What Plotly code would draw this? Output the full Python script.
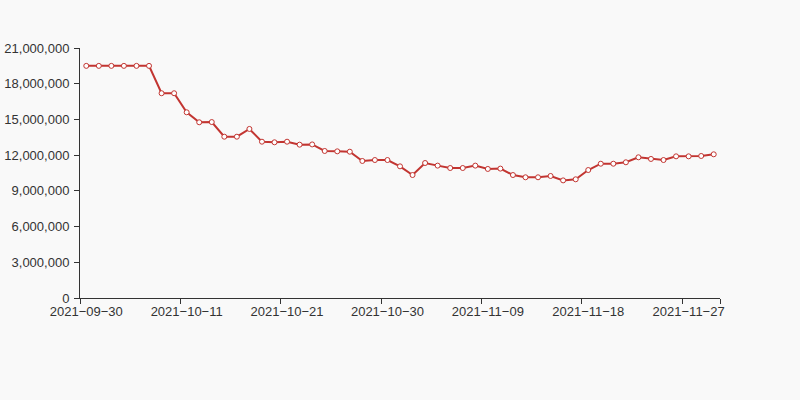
import plotly.graph_objects as go

dates = [
    "2021-09-30", "2021-10-01", "2021-10-04", "2021-10-05", "2021-10-06", "2021-10-07", "2021-10-08", "2021-10-09",
    "2021-10-11", "2021-10-12", "2021-10-13", "2021-10-14", "2021-10-15", "2021-10-18", "2021-10-19", "2021-10-20",
    "2021-10-21", "2021-10-22", "2021-10-23", "2021-10-25", "2021-10-26", "2021-10-27", "2021-10-28", "2021-10-29",
    "2021-10-30", "2021-10-31", "2021-11-01", "2021-11-02", "2021-11-03", "2021-11-05", "2021-11-06", "2021-11-08",
    "2021-11-09", "2021-11-10", "2021-11-11", "2021-11-12", "2021-11-13", "2021-11-15", "2021-11-16", "2021-11-17",
    "2021-11-18", "2021-11-19", "2021-11-20", "2021-11-21", "2021-11-22", "2021-11-24", "2021-11-25", "2021-11-26",
    "2021-11-27", "2021-11-28", "2021-11-29",
]

values = [
    19500000, 19500000, 19500000, 19500000, 19500000, 19500000, 17200000, 17200000,
    15600000, 14760000, 14780000, 13550000, 13550000, 14200000, 13130000, 13080000,
    13130000, 12880000, 12900000, 12350000, 12320000, 12290000, 11510000, 11590000,
    11590000, 11060000, 10330000, 11340000, 11120000, 10920000, 10920000, 11120000,
    10840000, 10870000, 10330000, 10140000, 10140000, 10250000, 9880000, 9970000,
    10750000, 11280000, 11280000, 11400000, 11820000, 11680000, 11590000, 11900000,
    11900000, 11930000, 12070000,
]

label_step = 8
y_ticks = [0, 3000000, 6000000, 9000000, 12000000, 15000000, 18000000, 21000000]

n = len(dates)
idx = list(range(n))
label_idx = idx[::label_step]
boundary_ticks = [i - 0.5 for i in label_idx] + [n - 0.5]

fig = go.Figure()
fig.add_trace(go.Scatter(
    x=idx, y=values, mode="lines+markers",
    line=dict(color="#c23531", width=2),
    marker=dict(size=5, color="#ffffff", line=dict(color="#c23531", width=1)),
    hoverinfo="skip", showlegend=False,
))
# invisible trace to activate overlay axis for boundary ticks
fig.add_trace(go.Scatter(x=[-0.5, n - 0.5], y=[None, None], xaxis="x2", showlegend=False,
                         hoverinfo="skip", mode="lines"))

axis_font = dict(family="Liberation Sans, Arial, sans-serif", size=13, color="#333333")
fig.update_layout(
    width=800, height=400,
    margin=dict(l=80, r=80, t=48, b=102),
    paper_bgcolor="#f9f9f9", plot_bgcolor="#f9f9f9",
    xaxis=dict(
        range=[-0.5, n - 0.5], tickmode="array", tickvals=label_idx,
        ticktext=[dates[i].replace("-", "\u2212") for i in label_idx], ticks="", showgrid=False,
        zeroline=False, showline=True, linecolor="#333333", linewidth=1,
        tickfont=axis_font, ticklabelstandoff=1, automargin=False,
    ),
    xaxis2=dict(
        range=[-0.5, n - 0.5], overlaying="x", side="bottom", anchor="y",
        tickmode="array", tickvals=boundary_ticks, showticklabels=False,
        ticks="outside", ticklen=5, tickcolor="#333333", tickwidth=1,
        showgrid=False, zeroline=False, showline=False, automargin=False,
    ),
    yaxis=dict(
        range=[0, 21000000], tickmode="array", tickvals=y_ticks,
        tickformat=",", ticks="outside", ticklen=5, tickcolor="#333333",
        showgrid=False, zeroline=False, showline=True, linecolor="#333333",
        linewidth=1, tickfont=axis_font, ticklabelstandoff=2, automargin=False,
    ),
)

fig.write_html(
    "out.html",
    config={"displayModeBar": False},
    post_script="document.body.style.margin='0';document.body.style.background='#f9f9f9';",
)
